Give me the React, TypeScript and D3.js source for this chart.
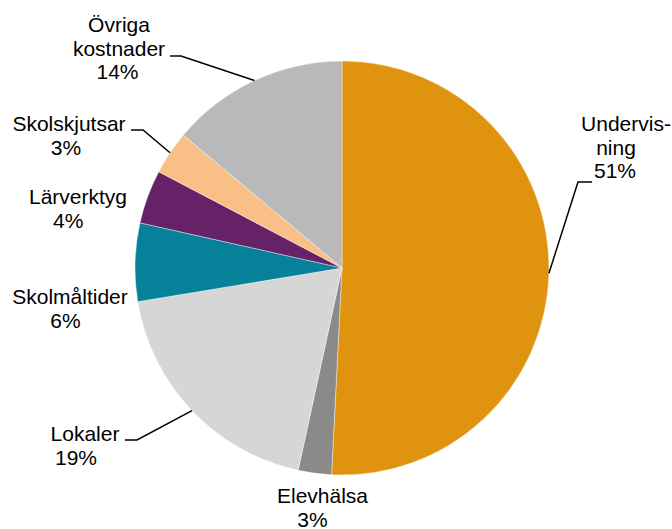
import React from "react";
import * as d3 from "d3";

const categories = ["Undervisning", "Elevhälsa", "Lokaler", "Skolmåltider", "Lärverktyg", "Skolskjutsar", "Övriga kostnader"];
const values = [50.8, 2.6, 19.0, 6.1, 4.2, 3.4, 13.9];
const labelNames = [["Undervis-", "ning"], ["Elevhälsa"], ["Lokaler"], ["Skolmåltider"], ["Lärverktyg"], ["Skolskjutsar"], ["Övriga", "kostnader"]];
const colors = ["#DF930E", "#8A8A8A", "#D6D6D6", "#078199", "#652267", "#F9BF86", "#B9B9B9"];

// layout: per-line center x, first baseline y, leader bend point (or null)
const labelLayout = [
  { xs: [626, 616, 615], y: 131, bend: [578, 182], tail: [592, 182] },
  { xs: [322.5, 312.5], y: 503, bend: null, tail: null },
  { xs: [85, 76], y: 441, bend: [137, 440], tail: [125, 440] },
  { xs: [70, 65.5], y: 304, bend: null, tail: null },
  { xs: [78, 68.3], y: 204, bend: null, tail: null },
  { xs: [69, 66], y: 131, bend: [143, 130], tail: [131, 130] },
  { xs: [119, 119, 117.5], y: 32, bend: [181, 56], tail: [170, 56] },
];

const W = 672, H = 529;
const cx = 342, cy = 268, R = 207;
const lineH = 23.5;

export default function App() {
  const pie = d3.pie<number>().sort(null).value((d) => d)(values);
  const arc = d3.arc<d3.PieArcDatum<number>>().innerRadius(0).outerRadius(R);
  const total = d3.sum(values);
  return (
    <svg width={W} height={H} style={{ position: "absolute", left: 0, top: 0, background: "#fff" }}
      fontFamily="'Liberation Sans', Arial, sans-serif" fontSize={21}>
      <g transform={`translate(${cx},${cy})`}>
        {pie.map((p, i) => (
          <path key={categories[i]} d={arc(p) || ""} fill={colors[i]} stroke="#fff" strokeWidth={0.4} />
        ))}
      </g>
      {pie.map((p, i) => {
        const L = labelLayout[i];
        const mid = (p.startAngle + p.endAngle) / 2;
        const ex = cx + R * Math.sin(mid);
        const ey = cy - R * Math.cos(mid);
        const lines = [...labelNames[i], `${Math.round((values[i] / total) * 100)}%`];
        return (
          <g key={"l" + i}>
            {L.bend && L.tail && (
              <polyline points={`${L.tail[0]},${L.tail[1]} ${L.bend[0]},${L.bend[1]} ${ex},${ey}`}
                fill="none" stroke="#000" strokeWidth={1.5} />
            )}
            {lines.map((t, j) => (
              <text key={j} x={L.xs[j]} y={L.y + j * lineH} textAnchor="middle" fill="#000">{t}</text>
            ))}
          </g>
        );
      })}
    </svg>
  );
}
